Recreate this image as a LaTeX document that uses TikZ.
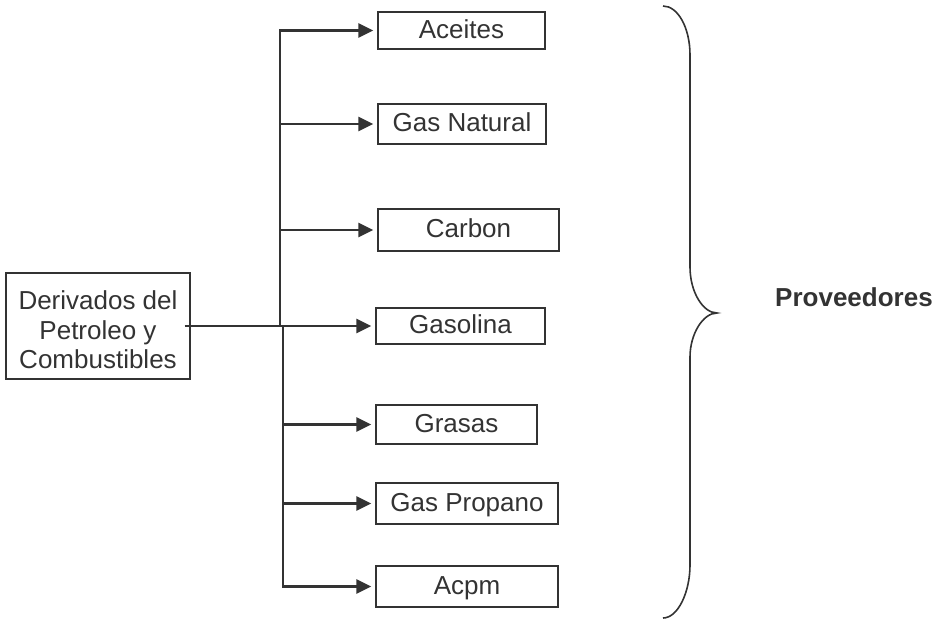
\documentclass[tikz,border=0pt]{standalone}
\usepackage{fontspec}
\setmainfont{Liberation Sans}
\usetikzlibrary{arrows.meta}
\definecolor{ink}{HTML}{333333}
\begin{document}
\begin{tikzpicture}[x=1pt,y=-1pt,
  labelfont/.style={font=\fontsize{26}{29.5}\selectfont},
  item/.style={draw=ink, line width=1.4pt, rectangle, inner sep=0pt, text=ink,
    labelfont, text height=19pt, text depth=3pt},
  source/.style={draw=ink, line width=1.4pt, rectangle, inner sep=0pt, text=ink,
    labelfont, align=center},
  link/.style={draw=ink, line width=2.5pt},
  arr/.style={link, -{Triangle[length=15pt,width=14pt]}, shorten >=4pt},
]
\useasboundingbox (0,0) rectangle (937,620);

% source box
\node[source, minimum width=184pt, minimum height=106pt] (src) at (98,326)
  {\rule{0pt}{27pt}Derivados del\\Petroleo y\\Combustibles};

% product boxes
\node[item, minimum width=167pt, minimum height=37pt] (aceites)  at (461.5,30.5) {Aceites};
\node[item, minimum width=168pt, minimum height=40pt] (gasnat)   at (462,124)    {Gas Natural};
\node[item, minimum width=181pt, minimum height=42pt] (carbon)   at (468.5,230)  {Carbon};
\node[item, minimum width=169pt, minimum height=36pt] (gasolina) at (460.5,326)  {Gasolina};
\node[item, minimum width=161pt, minimum height=39pt] (grasas)   at (456.5,424.5){Grasas};
\node[item, minimum width=182pt, minimum height=41pt] (propano)  at (467,503.5)  {Gas Propano};
\node[item, minimum width=182pt, minimum height=41pt] (acpm)     at (467,586.5)  {Acpm};

% trunk junctions
\coordinate (tm) at (280,326);
\coordinate (bm) at (283,326);
\coordinate (s) at ([xshift=-6pt]src.east);

% upper trunk and branches
\draw[arr] (tm) -- (tm |- aceites.west) -- (aceites.west);
\draw[arr] (tm |- gasnat.west) -- (gasnat.west);
\draw[arr] (tm |- carbon.west) -- (carbon.west);

% main line from the source
\draw[arr] (s) -- (gasolina.west);

% lower trunk and branches
\draw[arr] (bm) -- (bm |- acpm.west) -- (acpm.west);
\draw[arr] (bm |- grasas.west) -- (grasas.west);
\draw[arr] (bm |- propano.west) -- (propano.west);

% curly brace
\coordinate (tip) at (717,313);
\draw[ink, line width=1.6pt]
  (663,6) .. controls (678,6) and (690,28) .. (690,55)
  -- (690,267) .. controls (690,292) and (703,313) .. (tip)
  .. controls (703,313) and (690,334) .. (690,357)
  -- (690,565) .. controls (690,592) and (678,618) .. (663,618);

\node[anchor=base west, inner sep=0pt, text=ink,
  font=\bfseries\fontsize{26}{30}\selectfont] (prov) at (775,307) {Proveedores};
\end{tikzpicture}
\end{document}
